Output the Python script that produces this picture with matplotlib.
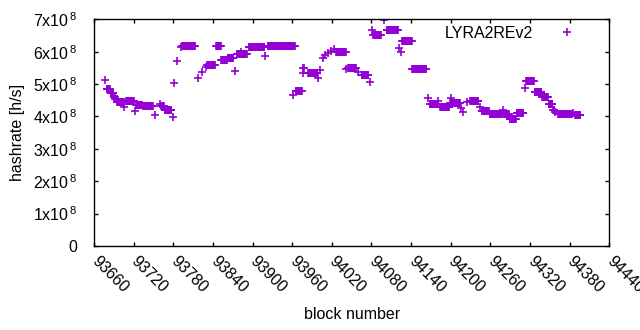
import matplotlib
matplotlib.use('Agg')
import matplotlib.pyplot as plt
import numpy as np
from matplotlib.ticker import FuncFormatter, MultipleLocator

plt.rcParams['font.family'] = ['Liberation Sans', 'DejaVu Sans']
plt.rcParams['mathtext.default'] = 'regular'

# runs of identical hashrate estimates: first block, last block, value (x1e8 h/s)
run_start = [93676, 93679, 93685, 93690, 93692, 93695, 93706, 93709, 93722, 93724,
             93734, 93752, 93760, 93762, 93767, 93779, 93781, 93786, 93791, 93793,
             93818, 93824, 93829, 93831, 93845, 93852, 93862, 93874, 93876, 93883,
             93894, 93919, 93923, 93961, 93965, 93976, 93977, 93978, 93984, 93999,
             94002, 94006, 94010, 94014, 94018, 94023, 94027, 94042, 94045, 94060,
             94065, 94078, 94081, 94083, 94099, 94103, 94122, 94124, 94126, 94142,
             94165, 94168, 94181, 94184, 94199, 94201, 94215, 94219, 94225, 94229,
             94245, 94247, 94259, 94279, 94280, 94289, 94300, 94312, 94314, 94327,
             94338, 94348, 94355, 94358, 94363, 94385, 94388]
run_end = [93676, 93684, 93689, 93691, 93694, 93705, 93706, 93720, 93722, 93733,
           93749, 93752, 93760, 93766, 93777, 93779, 93781, 93786, 93791, 93813,
           93818, 93824, 93829, 93843, 93852, 93861, 93871, 93874, 93891, 93883,
           93918, 93919, 93964, 93961, 93975, 93976, 93977, 93978, 93998, 93999,
           94002, 94006, 94010, 94014, 94018, 94023, 94041, 94042, 94056, 94060,
           94075, 94078, 94081, 94094, 94099, 94120, 94122, 94124, 94141, 94163,
           94165, 94180, 94181, 94198, 94214, 94201, 94215, 94219, 94225, 94242,
           94245, 94258, 94277, 94279, 94288, 94299, 94310, 94312, 94326, 94337,
           94347, 94354, 94357, 94358, 94383, 94385, 94396]
run_value = [5.12, 4.86, 4.71, 4.61, 4.53, 4.45, 4.30, 4.47, 4.17, 4.36,
             4.31, 4.06, 4.38, 4.33, 4.19, 3.99, 5.02, 5.72, 6.15, 6.19,
             5.18, 5.36, 5.53, 5.59, 6.17, 5.73, 5.79, 5.39, 5.94, 6.00,
             6.13, 5.87, 6.18, 4.66, 4.78, 5.33, 5.51, 5.51, 5.33, 5.18,
             5.43, 5.79, 5.89, 5.96, 6.03, 6.08, 5.98, 5.48, 5.50, 5.38,
             5.27, 5.05, 6.67, 6.53, 6.98, 6.68, 6.10, 6.00, 6.32, 5.48,
             4.56, 4.38, 4.48, 4.30, 4.41, 4.56, 4.25, 4.15, 4.45, 4.48,
             4.30, 4.18, 4.07, 4.20, 4.07, 3.92, 4.10, 4.87, 5.08, 4.76,
             4.59, 4.38, 4.20, 4.15, 4.07, 4.10, 4.03]

blocks = np.concatenate([np.arange(s, e + 1) for s, e in zip(run_start, run_end)])
hashrate = np.concatenate([np.full(e - s + 1, v * 1e8)
                           for s, e, v in zip(run_start, run_end, run_value)])

fig = plt.figure(figsize=(6.4, 3.3), dpi=100)
ax = fig.add_axes([0.147, 0.2545, 0.805, 0.687])

ax.plot(blocks, hashrate, linestyle='none', marker='+', color='#9400d3',
        markersize=6.2, markeredgewidth=1.2, label='LYRA2REv2')

ax.set_xlim(93660, 94440)
ax.set_ylim(0, 7e8)
ax.xaxis.set_major_locator(MultipleLocator(60))
ax.yaxis.set_major_locator(MultipleLocator(1e8))


def yfmt(v, pos):
    m = int(round(v / 1e8))
    return '0' if m == 0 else f'{m}x10$^{{\\,8}}$'


ax.yaxis.set_major_formatter(FuncFormatter(yfmt))
ax.tick_params(direction='in', length=3, width=1, top=True, right=True,
               labelsize=11.5, colors='black')
ax.tick_params(axis='y', pad=12)
ax.tick_params(axis='x', pad=9)
for lab in ax.get_xticklabels():
    lab.set_rotation(-45)
    lab.set_ha('left')
    lab.set_va('center')
    lab.set_rotation_mode('anchor')

for sp in ax.spines.values():
    sp.set_linewidth(1)

ax.set_xlabel('block number', fontsize=11.5, labelpad=8)
ax.set_ylabel('hashrate [h/s]', fontsize=11.5, labelpad=6)

ax.legend(loc='upper right', bbox_to_anchor=(0.949, 0.972), frameon=False,
          markerfirst=False, fontsize=11.5, borderpad=0, borderaxespad=0,
          handlelength=2, handletextpad=1.1)

fig.savefig('out.png', dpi=100)
